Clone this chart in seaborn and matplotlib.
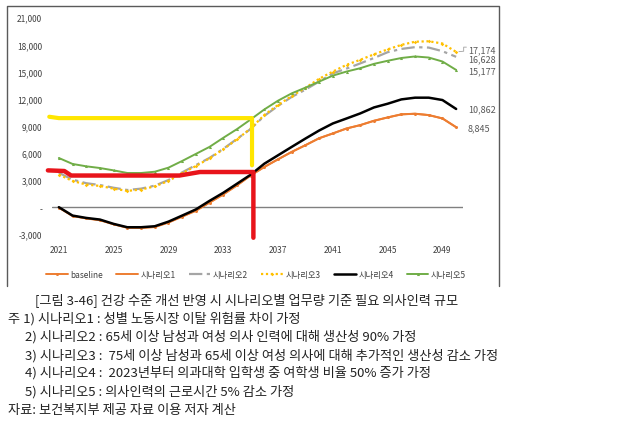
import numpy as np
import pandas as pd
import matplotlib
matplotlib.use("Agg")
import matplotlib.pyplot as plt
from matplotlib.lines import Line2D
import seaborn as sns

years = list(range(2021, 2051))
baseline = [-50, -980, -1250, -1450, -1900, -2280, -2300, -2200, -1700, -1050, -400, 500, 1400, 2400, 3500,
            4440, 5290, 6110, 6850, 7620, 8150, 8700, 9070, 9550, 9920, 10260, 10330, 10180, 9810, 8845]
scenario1 = [-40, -960, -1230, -1420, -1880, -2260, -2280, -2180, -1680, -1030, -380, 520, 1420, 2420, 3520,
             4460, 5300, 6120, 6860, 7630, 8160, 8710, 9080, 9560, 9930, 10270, 10340, 10190, 9820, 8845]
scenario2 = [3800, 3050, 2650, 2450, 2150, 1900, 2050, 2380, 3000, 3850, 4650, 5450, 6450, 7550, 8650,
             10100, 11200, 12200, 13000, 13900, 14800, 15330, 15900, 16500, 17140, 17500, 17700, 17650, 17250, 16628]
scenario3 = [3600, 2900, 2500, 2350, 2050, 1800, 1950, 2300, 2900, 3750, 4550, 5400, 6400, 7500, 8700,
             10200, 11300, 12300, 13200, 14200, 15000, 15740, 16300, 16900, 17450, 17950, 18300, 18350, 18100, 17174]
scenario4 = [0, -930, -1190, -1370, -1850, -2220, -2220, -2110, -1600, -930, -250, 700, 1590, 2590, 3590,
             4810, 5740, 6670, 7590, 8480, 9260, 9810, 10370, 11030, 11440, 11920, 12110, 12110, 11850, 10862]
scenario5 = [5440, 4780, 4520, 4330, 4070, 3780, 3780, 3920, 4370, 5110, 5890, 6670, 7670, 8630, 9700,
             10810, 11780, 12590, 13220, 13890, 14550, 15000, 15370, 15850, 16190, 16500, 16670, 16550, 16110, 15177]

series_names = ["baseline", "시나리오1", "시나리오2", "시나리오3", "시나리오4", "시나리오5"]
end_labels = ["17,174", "16,628", "15,177", "10,862", "8,845"]
end_label_y = [17440, 16440, 15110, 10844, 8811]

# hand-drawn annotation strokes
yellow_x = [2020.3, 2021.0, 2035.1, 2035.1]
yellow_y = [10000, 9850, 9850, 4630]
red_x = [2020.2, 2021.4, 2021.9, 2029.8, 2031.3, 2035.2, 2035.2]
red_y = [4070, 4000, 3500, 3500, 3890, 3890, -3380]

xticks = [2021, 2025, 2029, 2033, 2037, 2041, 2045, 2049]
yticks = [-3000, 0, 3000, 6000, 9000, 12000, 15000, 18000, 21000]
ytick_labels = ["-3,000", "-", "3,000", "6,000", "9,000", "12,000", "15,000", "18,000", "21,000"]

caption_lines = [
    "[그림 3-46] 건강 수준 개선 반영 시 시나리오별 업무량 기준 필요 의사인력 규모",
    "주 1) 시나리오1 : 성별 노동시장 이탈 위험률 차이 가정",
    "2) 시나리오2 : 65세 이상 남성과 여성 의사 인력에 대해 생산성 90% 가정",
    "3) 시나리오3 :  75세 이상 남성과 65세 이상 여성 의사에 대해 추가적인 생산성 감소 가정",
    "4) 시나리오4 :  2023년부터 의과대학 입학생 중 여학생 비율 50% 증가 가정",
    "5) 시나리오5 : 의사인력의 근로시간 5% 감소 가정",
    "자료: 보건복지부 제공 자료 이용 저자 계산",
]

sns.set_theme(style="white")
plt.rcParams["font.family"] = ["Noto Sans CJK KR", "DejaVu Sans"]

df = pd.DataFrame({"year": years, "baseline": baseline, "시나리오1": scenario1, "시나리오2": scenario2,
                   "시나리오3": scenario3, "시나리오4": scenario4, "시나리오5": scenario5})
long = df.melt(id_vars="year", var_name="series", value_name="value")

W, H = 620, 427
fig = plt.figure(figsize=(W / 100, H / 100), dpi=100)
ax = fig.add_axes([52 / W, 1 - 235.3 / H, (463 - 52) / W, (235.3 - 18.3) / H])

styles = {
    "baseline": dict(color="#ED7D31", lw=1.4, marker="o", ms=2.2, ls="-"),
    "시나리오1": dict(color="#ED7D31", lw=1.4, marker=None, ms=0, ls="-"),
    "시나리오2": dict(color="#A5A5A5", lw=1.6, marker=None, ms=0, ls=(0, (6, 2, 1.5, 2))),
    "시나리오3": dict(color="#FFC000", lw=1.6, marker="D", ms=1.8, ls=(0, (1, 1.2))),
    "시나리오4": dict(color="#000000", lw=1.8, marker=None, ms=0, ls="-"),
    "시나리오5": dict(color="#70AD47", lw=1.4, marker="^", ms=2.2, ls="-"),
}
draw_order = ["시나리오1", "baseline", "시나리오4", "시나리오2", "시나리오3", "시나리오5"]
handles = {}
for name in draw_order:
    st = styles[name]
    sub = long[long["series"] == name]
    sns.lineplot(data=sub, x="year", y="value", ax=ax, color=st["color"], lw=st["lw"],
                 marker=st["marker"], markersize=st["ms"], markeredgewidth=0, linestyle=st["ls"],
                 legend=False, zorder=3)
    handles[name] = Line2D([], [], color=st["color"], lw=st["lw"], marker=st["marker"],
                           markersize=st["ms"], markeredgewidth=0, linestyle=st["ls"])

ax.axhline(0, color="#808080", lw=1.0, zorder=2)

# annotation strokes
ax.plot(yellow_x, yellow_y, color="#FFE600", lw=3.0, solid_capstyle="round", zorder=5, clip_on=False)
ax.plot(red_x, red_y, color="#E8141B", lw=3.2, solid_capstyle="round", zorder=6, clip_on=False)

ax.set_xlim(2020.5, 2050.5)
ax.set_ylim(-3000, 21000)
ax.set_xticks(xticks)
ax.set_xticklabels([str(x) for x in xticks])
ax.set_yticks(yticks)
ax.set_yticklabels(ytick_labels)
ax.tick_params(axis="both", length=0, labelsize=6, labelcolor="#404040")
ax.tick_params(axis="y", pad=7)
ax.tick_params(axis="x", pad=8)
ax.set_xlabel("")
ax.set_ylabel("")
for s in ax.spines.values():
    s.set_visible(False)
ax.patch.set_alpha(0)

# end labels
for lab, yv in zip(end_labels, end_label_y):
    ax.text(2050.85, yv, lab, fontsize=6.5, color="#595959", va="center", ha="left", clip_on=False)
ax.plot([2050.75, 2050.55, 2050.55, 2050.2], [17700, 17700, 17250, 17200], color="#A0A0A0", lw=0.6,
        clip_on=False)

# legend
fig.legend([handles[n] for n in series_names], series_names, loc="center", ncol=6,
           bbox_to_anchor=(256 / W, 1 - 275.5 / H), frameon=False, fontsize=6, handlelength=2.6,
           columnspacing=1.6, handletextpad=0.3, labelcolor="#404040")

# outer frame (left, top, right)
fig.add_artist(Line2D([7 / W, 7 / W, 499 / W, 499 / W], [1 - 287 / H, 1 - 7 / H, 1 - 7 / H, 1 - 287 / H],
                      transform=fig.transFigure, color="#5a5a5a", lw=1.0))

# caption
cap_pos = [(35, 300), (8, 318.3), (25, 337), (25, 355.7), (25, 373), (25, 391.7), (8, 410.7)]
for txt, (px, py) in zip(caption_lines, cap_pos):
    fig.text(px / W, 1 - py / H, txt, fontsize=9.5, color="#222222", ha="left", va="center")

fig.savefig("out.png", dpi=100)
